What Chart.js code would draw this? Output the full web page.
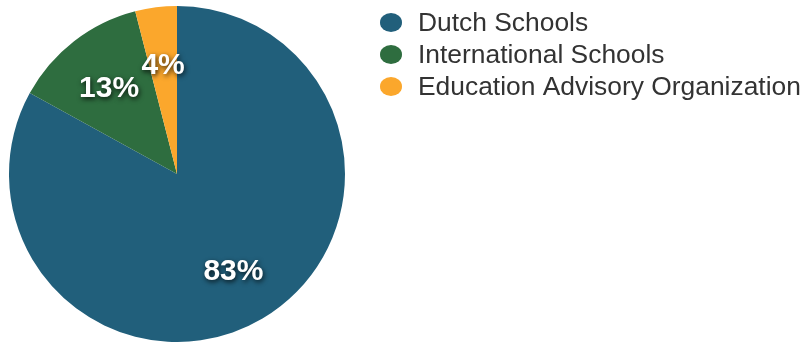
<!DOCTYPE html>
<html>
<head>
<meta charset="utf-8">
<script src="https://cdn.jsdelivr.net/npm/chart.js@4"></script>
<style>
  html, body { margin: 0; padding: 0; background: #fff; }
  #wrap { width: 805px; height: 342px; position: relative; }
</style>
</head>
<body>
<div id="wrap"><canvas id="pie"></canvas></div>
<script>
const labels = ['Dutch Schools', 'International Schools', 'Education Advisory Organization']
const shares = [83, 13, 4]
const colors = ['#215f7b', '#2e6d3f', '#fba72c']

// percent labels drawn inside each slice
const sliceLabels = {
    id: 'sliceLabels',
    afterDatasetsDraw(chart) {
        const ctx = chart.ctx
        const meta = chart.getDatasetMeta(0)
        ctx.save()
        ctx.font = 'bold 30px "Liberation Sans", Arial, sans-serif'
        ctx.textAlign = 'center'
        ctx.textBaseline = 'middle'
        ctx.fillStyle = '#ffffff'
        ctx.shadowColor = 'rgba(0,0,0,0.8)'
        ctx.shadowBlur = 5
        ctx.shadowOffsetX = 1
        ctx.shadowOffsetY = 2
        meta.data.forEach((arc, i) => {
            const p = arc.getProps(['x', 'y', 'startAngle', 'endAngle', 'outerRadius'], true)
            const mid = (p.startAngle + p.endAngle) / 2
            const r = p.outerRadius * 0.66
            ctx.fillText(shares[i] + '%', p.x + Math.cos(mid) * r, p.y + Math.sin(mid) * r + 2)
        })
        ctx.restore()
    }
}

// legend at the right, circles + text
const sideLegend = {
    id: 'sideLegend',
    afterDraw(chart) {
        const ctx = chart.ctx
        const x = chart.chartArea.right + 37
        ctx.save()
        ctx.font = '26.4px "Liberation Sans", Arial, sans-serif'
        ctx.textBaseline = 'middle'
        labels.forEach((lab, i) => {
            const y = 22.5 + i * 32
            ctx.beginPath()
            ctx.fillStyle = colors[i]
            ctx.ellipse(x, y, 11, 9.5, 0, 0, Math.PI * 2)
            ctx.fill()
            ctx.fillStyle = '#333333'
            ctx.fillText(lab, x + 27, y + 1)
        })
        ctx.restore()
    }
}

const ctx = document.getElementById('pie')
const myChart = new Chart(ctx, {
    type: 'pie',
    data: {
        labels: labels,
        datasets: [{
            data: shares,
            backgroundColor: colors,
            borderWidth: 0
        }]
    },
    options: {
        responsive: true,
        maintainAspectRatio: false,
        animation: false,
        layout: { padding: { top: 6, left: 0, right: 451, bottom: 0 } },
        plugins: {
            tooltip: { enabled: false },
            legend: { display: false }
        }
    },
    plugins: [sliceLabels, sideLegend]
})
</script>
</body>
</html>
